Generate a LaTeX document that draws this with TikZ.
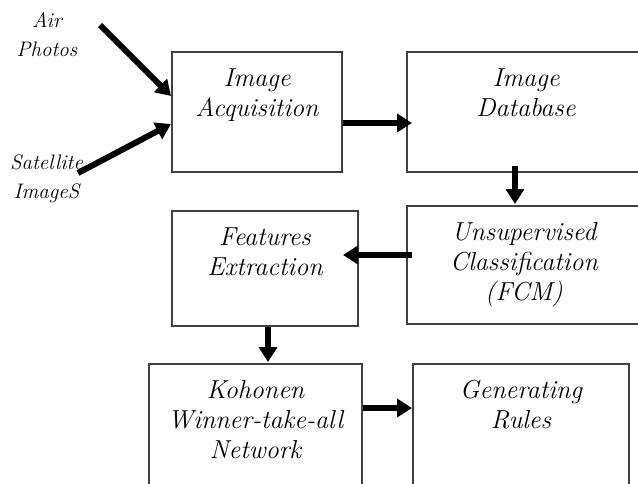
\documentclass[tikz,border=0pt]{standalone}
\usetikzlibrary{arrows.meta,calc}
\definecolor{boxgray}{RGB}{64,64,64}
\newcommand{\tstrut}{\rule{0pt}{21pt}}
\newcommand{\lstrut}{\rule{0pt}{18pt}}
\begin{document}
\begin{tikzpicture}[x=1pt,y=-1pt,
  box/.style={draw=boxgray, line width=2pt, inner sep=0pt},
  txt/.style={align=center, inner sep=0pt, font=\fontsize{26}{30}\selectfont\itshape},
  lbl/.style={align=center, inner sep=0pt, font=\fontsize{21}{29.5}\selectfont\itshape},
  arr/.style={line width=6pt, -{Triangle[length=15pt,width=18pt]}}]
\useasboundingbox (0,0) rectangle (638,483);
\clip (0,0) rectangle (638,483);
% boxes
\node[box, minimum width=170pt, minimum height=120pt] (acq) at (257,112) {};
\node[box, minimum width=238pt, minimum height=120pt] (db) at (526,112) {};
\node[box, minimum width=234pt, minimum height=118pt] (unsup) at (524,265) {};
\node[box, minimum width=186pt, minimum height=115pt] (feat) at (265,268.5) {};
\node[box, minimum width=213pt, minimum height=136pt] (koh) at (255.5,432) {};
\node[box, minimum width=216pt, minimum height=136pt] (gen) at (521,432) {};
% texts
\node[txt, anchor=north] (acqT) at ($(acq.north)+(0,14.5)$) {\tstrut Image\\Acquisition};
\node[txt, anchor=north] (dbT) at ($(db.north)+(0,14.5)$) {\tstrut Image\\Database};
\node[txt, anchor=north] (unsupT) at ($(unsup.north)+(0,14.5)$) {\tstrut Unsupervised\\Classification\\(FCM)};
\node[txt, anchor=north] (featT) at ($(feat.north)+(0,14.5)$) {\tstrut Features\\Extraction};
\node[txt, anchor=north] (kohT) at ($(koh.north)+(0,14.5)$) {\tstrut Kohonen\\Winner-take-all\\Network};
\node[txt, anchor=north] (genT) at ($(gen.north)+(0,14.5)$) {\tstrut Generating\\Rules};
% input labels
\node[lbl, anchor=north] (air) at (47,9) {\lstrut Air\\Photos};
\node[lbl, anchor=north] (sat) at (46.5,151) {\lstrut Satellite\\ImageS};
% arrows
\coordinate (airS) at (100,25);
\coordinate (satS) at (78,173);
\draw[arr] (airS) -- ($(acq.north west)+(0,45)$);
\draw[arr] (satS) -- ($(acq.north west)+(0,73)$);
\draw[arr] ($(acq.north east)+(0,72)$) -- ($(db.north west)+(6,72)$);
\draw[arr] ($(db.south west)+(109,-7)$) -- ($(unsup.north west)+(109,-1)$);
\draw[arr] ($(unsup.north west)+(6,50)$) -- ($(feat.north east)+(-16,45)$);
\draw[arr] ($(feat.south west)+(97,0)$) -- ($(koh.north west)+(120,-1)$);
\draw[arr] ($(koh.north east)+(0,45)$) -- ($(gen.north west)+(0,45)$);
\end{tikzpicture}
\end{document}
